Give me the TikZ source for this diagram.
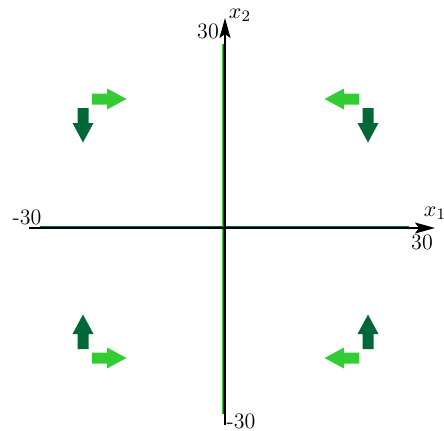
\documentclass[tikz,border=0pt]{standalone}
\usetikzlibrary{arrows.meta}
\definecolor{darkg}{RGB}{0,104,55}
\definecolor{lightg}{RGB}{51,204,51}
\tikzset{
  axisline/.style={black,line width=0.75pt,-{Stealth[length=10pt,width=5.5pt,inset=2pt]}},
  gline/.style={darkg,line width=0.85pt},
  lgline/.style={lightg,line width=0.85pt},
  lbl/.style={inner sep=0pt,font=\fontsize{11}{13}\selectfont},
  barrow/.style={fill=#1,draw=none}
}
\newcommand{\blockarrow}[4]{%
  \begin{scope}[shift={(#1,#2)},rotate=#3]
    \fill[barrow=#4] (0,5.5) -- (15,5.5) -- (15,10.5) -- (34.5,0) -- (15,-10.5) -- (15,-5.5) -- (0,-5.5) -- cycle;
  \end{scope}}
\begin{document}
\begin{tikzpicture}[x=0.5pt,y=-0.5pt]
\useasboundingbox (0,0) rectangle (444,430);
% axis end points
\coordinate (xa) at (29,228);
\coordinate (xb) at (435,228);
\coordinate (ya) at (225,425);
\coordinate (yb) at (225,18);
\coordinate (ga) at (40,226.5);
\coordinate (gb) at (409,226.5);
\coordinate (gc) at (224,414);
\coordinate (gd) at (224,44);
\coordinate (gla) at (222.4,414);
\coordinate (glb) at (222.4,44);
% green lines
\draw[lgline] (gla) -- (glb);
\draw[gline] (gc) -- (gd);
\draw[gline] (ga) -- (gb);
% axes
\draw[axisline] (xa) -- (xb);
\draw[axisline] (ya) -- (yb);
% labels
\node[lbl] (ytop) at (208,31) {30};
\node[lbl] (xleft) at (27,217) {-30};
\node[lbl] (xright) at (422,242) {30};
\node[lbl] (ybot) at (241,421) {-30};
\node[lbl] (x1) at (435,213) {$x_1$};
\node[lbl] (x2) at (240,15) {$x_2$};
% block arrows
\blockarrow{92}{99}{0}{lightg}
\blockarrow{83}{108}{-90}{darkg}
\blockarrow{359}{99}{180}{lightg}
\blockarrow{368}{108}{-90}{darkg}
\blockarrow{83}{349}{90}{darkg}
\blockarrow{92}{358}{0}{lightg}
\blockarrow{368}{349}{90}{darkg}
\blockarrow{359}{358}{180}{lightg}
\end{tikzpicture}
\end{document}
